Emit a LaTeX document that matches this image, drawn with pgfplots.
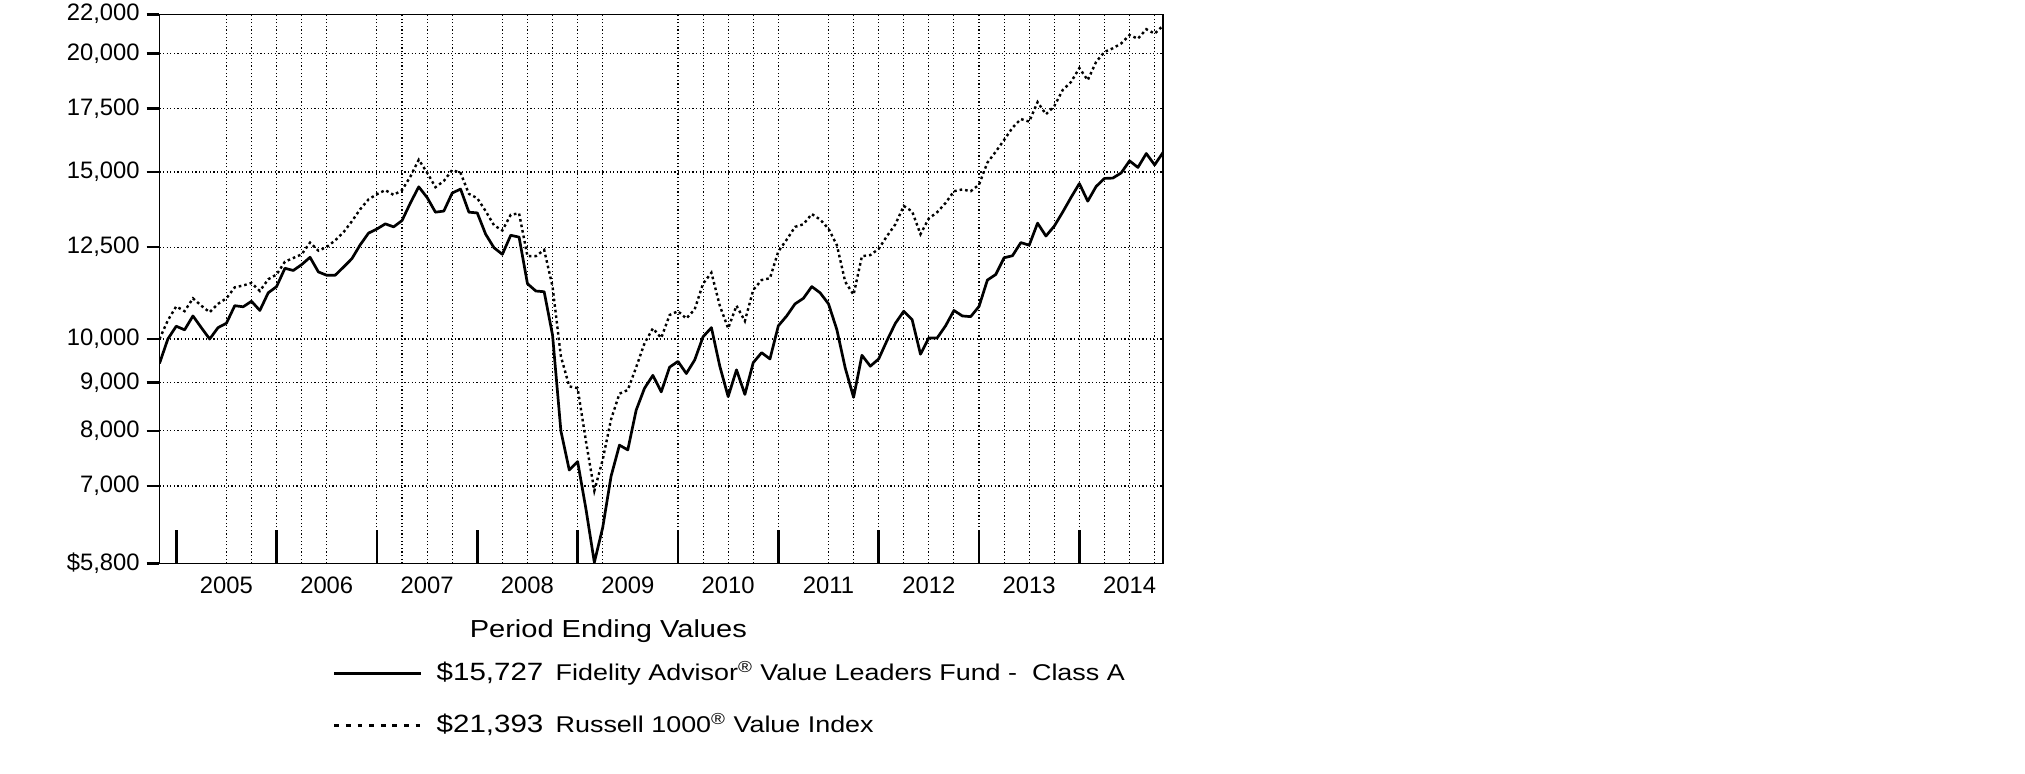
\documentclass[border=0pt]{standalone}
\usepackage{fontspec}
\setmainfont{Liberation Sans}
\newfontfamily\legfont{Liberation Sans}[FakeStretch=1.18]
\usepackage{pgfplots}
\pgfplotsset{compat=1.18}
\usepackage{pgfplotstable}

\pgfplotstableread{
m fund idx
0 9425 10000
1 10000 10464
2 10316 10823
3 10225 10699
4 10576 11038
5 10280 10843
6 10000 10671
7 10280 10891
8 10390 11038
9 10843 11336
10 10814 11387
11 10959 11458
12 10718 11236
13 11186 11560
14 11357 11695
15 11873 12065
16 11810 12173
17 11980 12282
18 12194 12637
19 11768 12392
20 11674 12503
21 11674 12704
22 11905 12956
23 12151 13306
24 12569 13703
25 12932 14036
26 13060 14212
27 13224 14353
28 13129 14187
29 13330 14353
30 13912 14833
31 14468 15453
32 14099 14979
33 13605 14455
34 13642 14676
35 14251 15072
36 14391 14966
37 13605 14225
38 13581 14074
39 12898 13642
40 12480 13180
41 12282 13013
42 12863 13520
43 12806 13568
44 11438 12227
45 11236 12227
46 11216 12414
47 10098 11357
48 8000 9587
49 7277 8915
50 7428 8875
51 6617 7800
52 5815 6918
53 6329 7461
54 7168 8229
55 7730 8757
56 7641 8836
57 8414 9337
58 8875 9898
59 9156 10262
60 8796 10027
61 9340 10600
62 9471 10699
63 9197 10511
64 9505 10747
65 10054 11438
66 10280 11747
67 9362 10843
68 8695 10262
69 9279 10843
70 8742 10446
71 9443 11266
72 9673 11539
73 9528 11590
74 10325 12370
75 10576 12727
76 10891 13129
77 11038 13212
78 11357 13544
79 11186 13365
80 10891 13071
81 10230 12560
82 9321 11489
83 8680 11136
84 9613 12227
85 9362 12260
86 9528 12447
87 9965 12840
88 10390 13212
89 10699 13813
90 10483 13630
91 9638 12898
92 10027 13401
93 10027 13605
94 10325 13912
95 10718 14315
96 10576 14378
97 10558 14315
98 10823 14545
99 11539 15343
100 11695 15758
101 12180 16213
102 12240 16700
103 12637 17057
104 12558 16951
105 13247 17774
106 12840 17255
107 13153 17601
108 13605 18299
109 14099 18661
110 14584 19302
111 13974 18744
112 14481 19596
113 14767 20073
114 14780 20252
115 14966 20489
116 15411 20912
117 15166 20727
118 15688 21212
119 15261 20986
120 15727 21393
}\datatable

\begin{document}
\begin{tikzpicture}
\useasboundingbox (-79.75pt,-104.75pt) rectangle (932.75pt,281.75pt);
\begin{axis}[
  scale only axis,
  width=501.75pt, height=274.65pt,
  xmin=0, xmax=120,
  ymode=log, ymin=5800, ymax=22000,
  axis line style={line width=0.6pt, black},
  tick pos=left,
  tick align=outside,
  major tick length=6.5pt,
  tick label style={font=\fontsize{11.9}{14}\selectfont},
  ytick={5800,7000,8000,9000,10000,12500,15000,17500,20000,22000},
  yticklabels={{\$5,800},{7,000},{8,000},{9,000},{10,000},{12,500},{15,000},{17,500},{20,000},{22,000}},
  yticklabel style={inner sep=3.25pt},
  ytick style={line width=1.4pt, black},
  log basis y=10,
  xtick={8,20,...,116},
  xticklabels={2005,2006,2007,2008,2009,2010,2011,2012,2013,2014},
  xticklabel style={inner sep=0pt},
  x tick style={draw=none},
  minor xtick={8,11,14,17,20,26,29,32,35,41,44,47,50,53,62,65,68,71,74,80,83,86,89,92,95,98,101,104,107,110,113,116,119},
  minor tick length=0pt,
  xminorgrids=true,
  ymajorgrids=true,
  xmajorgrids=false,
  major grid style={black, line width=0.55pt, dash pattern=on 0.6pt off 1.2pt},
  minor grid style={black, line width=0.55pt, dash pattern=on 0.6pt off 1.2pt},
  extra x ticks={2,14,26,38,50,62,74,86,98,110},
  extra x tick labels={},
  extra x tick style={tick align=inside, major tick length=17pt, xmajorgrids=false, xminorgrids=false,
     x tick style={draw=black, line width=1.4pt}},
  legend image code/.code={\draw[#1] (0pt,0pt) -- (43.5pt,0pt);},
  legend style={at={(rel axis cs:0.1729,-0.2476)}, anchor=west, draw=none, fill=none,
     inner sep=0pt, outer sep=0pt, column sep=5pt, row sep=12.2pt,
     cells={anchor=west, inner sep=0pt, text height=8.3pt, text depth=0pt}},
]
\addplot[forget plot, black, line width=1.2pt, dash pattern=on 1.3pt off 1.5pt] table[x=m,y=idx]{\datatable};
\addplot[forget plot, black, line width=1.35pt, line join=round] table[x=m,y=fund]{\datatable};
\addlegendimage{black, line width=1.35pt}
\addlegendentry{\makebox[59.5pt][l]{\legfont\fontsize{12.5}{13}\selectfont\$15,727}{\legfont\fontsize{11.4}{12}\selectfont Fidelity Advisor\textsuperscript{®} Value Leaders Fund -\ \ Class A}}
\addlegendimage{black, line width=1.3pt, dash pattern=on 2.4pt off 3.4pt}
\addlegendentry{\makebox[59.5pt][l]{\legfont\fontsize{12.5}{13}\selectfont\$21,393}{\legfont\fontsize{11.4}{12}\selectfont Russell 1000\textsuperscript{®} Value Index}}
\end{axis}
\node[anchor=base, inner sep=0pt, font=\legfont\fontsize{12.3}{14}\selectfont] at (224.4pt,-36.75pt) {Period Ending Values};
\end{tikzpicture}
\end{document}
